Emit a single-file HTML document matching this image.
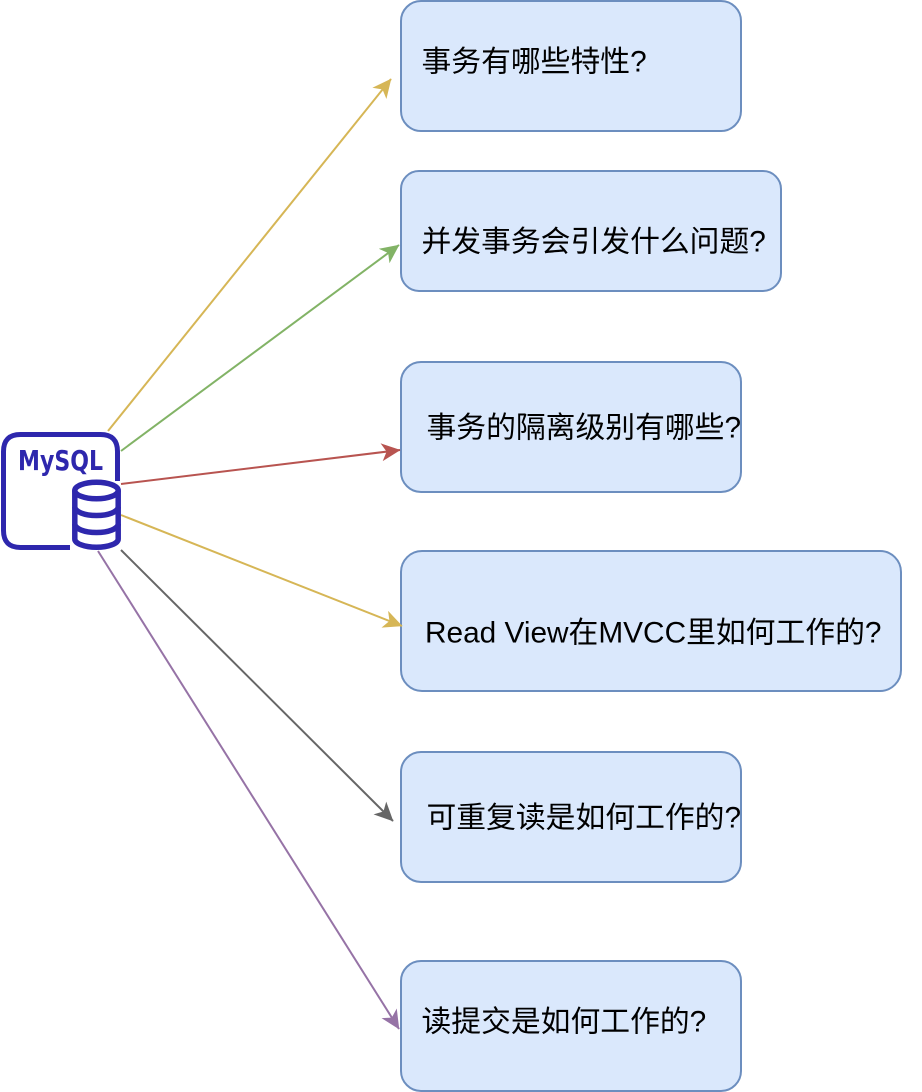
<!DOCTYPE html>
<html><head><meta charset="utf-8"><style>
html,body{margin:0;padding:0;background:#fff}
svg{display:block}
text.t{font-family:"Liberation Sans","Noto Sans CJK SC",sans-serif;font-size:29.8px;fill:#000}
</style></head><body>
<svg width="922" height="1092" viewBox="0 0 922 1092" xmlns="http://www.w3.org/2000/svg">
<defs>
<marker id="y" markerUnits="userSpaceOnUse" markerWidth="19" markerHeight="19" viewBox="0 0 19 19" refX="18.5" refY="9.5" orient="auto"><path d="M0 0.5L19 9.5L0 18.5L5 9.5Z" fill="#d6b656"/></marker>
<marker id="g" markerUnits="userSpaceOnUse" markerWidth="19" markerHeight="19" viewBox="0 0 19 19" refX="18.5" refY="9.5" orient="auto"><path d="M0 0.5L19 9.5L0 18.5L5 9.5Z" fill="#82b366"/></marker>
<marker id="r" markerUnits="userSpaceOnUse" markerWidth="19" markerHeight="19" viewBox="0 0 19 19" refX="18.5" refY="9.5" orient="auto"><path d="M0 0.5L19 9.5L0 18.5L5 9.5Z" fill="#b85450"/></marker>
<marker id="k" markerUnits="userSpaceOnUse" markerWidth="19" markerHeight="19" viewBox="0 0 19 19" refX="18.5" refY="9.5" orient="auto"><path d="M0 0.5L19 9.5L0 18.5L5 9.5Z" fill="#666666"/></marker>
<marker id="p" markerUnits="userSpaceOnUse" markerWidth="19" markerHeight="19" viewBox="0 0 19 19" refX="18.5" refY="9.5" orient="auto"><path d="M0 0.5L19 9.5L0 18.5L5 9.5Z" fill="#9673a6"/></marker>
</defs>
<g fill="#dae8fc" stroke="#6c8ebf" stroke-width="2">
<rect x="401" y="1" width="340" height="130" rx="20"/>
<rect x="401" y="171" width="380" height="120" rx="18"/>
<rect x="401" y="362" width="340" height="130" rx="20"/>
<rect x="401" y="551" width="500" height="140" rx="21"/>
<rect x="401" y="752" width="340" height="130" rx="20"/>
<rect x="401" y="961" width="340" height="130" rx="20"/>
</g>
<g fill="none" stroke-width="2">
<line x1="108" y1="431" x2="391" y2="79" stroke="#d6b656" marker-end="url(#y)"/>
<line x1="121" y1="451" x2="399" y2="245" stroke="#82b366" marker-end="url(#g)"/>
<line x1="121" y1="484" x2="400" y2="450" stroke="#b85450" marker-end="url(#r)"/>
<line x1="121" y1="515" x2="402" y2="626" stroke="#d6b656" marker-end="url(#y)"/>
<line x1="121" y1="550" x2="393" y2="821" stroke="#666666" marker-end="url(#k)"/>
<line x1="98" y1="551" x2="399" y2="1029" stroke="#9673a6" marker-end="url(#p)"/>
</g>
<g fill="none" stroke="#2e27ad">
<path d="M117.5 481V451.5Q117.5 434.5 100.5 434.5H20.5Q3.5 434.5 3.5 451.5V530.5Q3.5 547.5 20.5 547.5H70" stroke-width="5"/>
<g stroke-width="5.5" fill="#fff">
<path d="M74.8 490.5V539A21.7 8.3 0 0 0 118.2 539V490.5"/>
<ellipse cx="96.5" cy="490.5" rx="21.7" ry="8.3"/>
</g>
<g stroke-width="5.5">
<path d="M74.8 507A21.7 8.5 0 0 0 118.2 507"/>
<path d="M74.8 524A21.7 8.5 0 0 0 118.2 524"/>
</g>
</g>
<text x="18" y="470" font-family="'DejaVu Sans','Liberation Sans',sans-serif" font-weight="700" font-size="28" fill="#2e27ad" textLength="85" lengthAdjust="spacingAndGlyphs">MySQL</text>
<text class="t" x="421.5" y="71.5">事务有哪些特性?</text>
<text class="t" x="421.5" y="251.5">并发事务会引发什么问题?</text>
<text class="t" x="426.5" y="437.5">事务的隔离级别有哪些?</text>
<text class="t" x="425" y="642.5">Read View在MVCC里如何工作的?</text>
<text class="t" x="426.5" y="827.5">可重复读是如何工作的?</text>
<text class="t" x="421.5" y="1031.5">读提交是如何工作的?</text>
</svg>
</body></html>
